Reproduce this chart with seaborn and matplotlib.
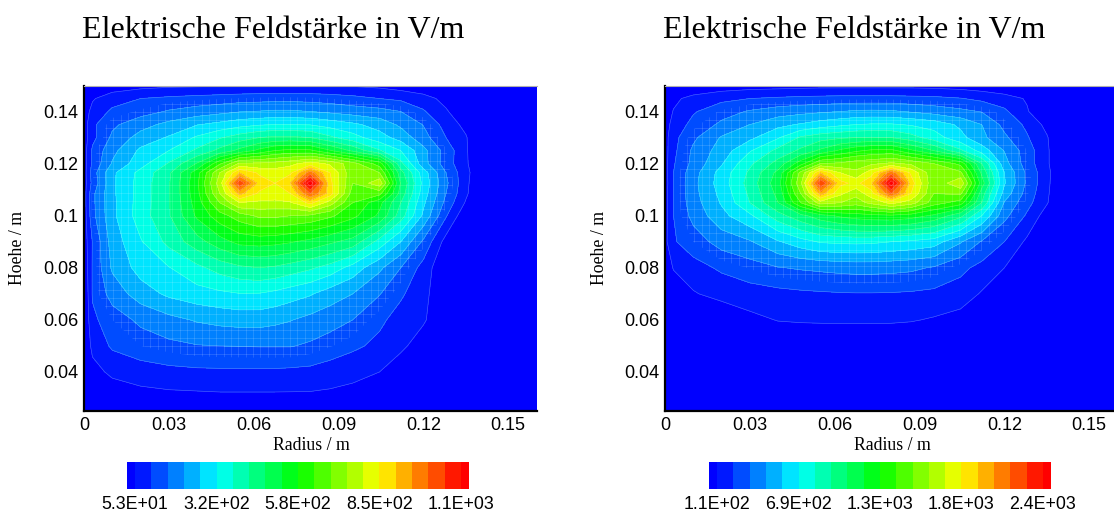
import numpy as np
import matplotlib
matplotlib.use("Agg")
import matplotlib.pyplot as plt
from matplotlib.colors import LinearSegmentedColormap, ListedColormap, BoundaryNorm
from matplotlib.ticker import MultipleLocator, FixedLocator, FixedFormatter
import seaborn as sns

title_text = "Elektrische Feldstärke in V/m"
xlabel_text = "Radius / m"
ylabel_text = "Hoehe / m"
legend_left = ["5.3E+01", "3.2E+02", "5.8E+02", "8.5E+02", "1.1E+03"]
legend_right = ["1.1E+02", "6.9E+02", "1.3E+03", "1.8E+03", "2.4E+03"]
x_ticks = [0, 0.03, 0.06, 0.09, 0.12, 0.15]
x_ticklabels = ["0", "0.03", "0.06", "0.09", "0.12", "0.15"]
y_ticks = [0.04, 0.06, 0.08, 0.1, 0.12, 0.14]
y_ticklabels = ["0.04", "0.06", "0.08", "0.1", "0.12", "0.14"]

radius = [0, .003, .01, .02, .03, .04, .048, .055, .062, .0675, .073, .08, .087, .095, .1045, .112, .12, .128, .135, .14, .16]
height = [.025, .03, .04, .05, .06, .07, .08, .09, .1, .105, .1085, .1125, .1165, .12, .125, .13, .135, .14, .145, .15]

# field expressed in contour-level numbers (level k = k-th contour of the legend)
field_left = [
 [-1]*21,
 [-1,-1,-.8,-.5,-.35,-.3,-.25,-.25,-.25,-.25,-.25,-.25,-.3,-.4,-.7,-1,-1,-1,-1,-1,-1],
 [-1,-.4,.25,.6,.75,.82,.84,.84,.84,.84,.8,.75,.55,.3,0,-.7,-1,-1,-1,-1,-1],
 [-1,.3,1.15,1.5,1.75,1.95,2,2.02,2.05,2.05,2.05,1.85,1.55,1.2,.75,.25,-.6,-1,-1,-1,-1],
 [-1,.8,1.5,2.2,2.7,3.1,3.3,3.4,3.4,3.25,3.05,2.7,2.4,2,1.2,.6,.15,-1,-1,-1,-1],
 [-1,1.1,2.4,3.5,4.2,4.6,4.8,4.97,4.95,4.75,4.45,4.1,3.5,3,2.05,1.15,.35,-1,-1,-1,-1],
 [-.8,1.1,3.15,4.4,4.95,5.75,6.4,6.8,7,6.85,6.55,6.15,5.6,4.6,3.2,2,.63,-1,-1,-1,-1],
 [-.6,1.05,3.45,4.9,6.3,7.6,8.6,9.3,9.4,9.3,9.1,8.7,8.2,7.6,5.6,4,1.8,-.4,-1,-1,-1],
 [-.6,1.7,3.75,5.5,6.9,9.2,10.6,11.5,12.2,12.2,12,11.8,11.2,10.3,8.8,6.5,3.8,1.1,-.8,-1,-1],
 [-.5,1.75,3.75,5.45,6.9,9.5,12,14,13.8,13.7,13.9,15.3,13.5,11,9.3,7,4.2,1.7,-.1,-1,-1],
 [-.5,1.75,3.8,5.4,6.9,9.7,13,16.3,14.8,14.7,15,18,15.5,11.5,11.3,7.6,4.5,2,.2,-1,-1],
 [-.5,1.3,3.8,5.4,6.9,9.8,13.5,18.8,15.6,15,16,20.8,15.3,12,13.7,7.9,4.7,2.2,.3,-1,-1],
 [-.5,1.5,3.8,5.3,6.8,9.6,13,16,14.8,14.5,14.8,17.5,15,12.2,12,7.4,4.5,2,.3,-.7,-1],
 [-.5,1.2,3.1,4.6,6.1,8.1,10.8,13.2,13.2,13.4,13.7,14.5,13.8,12.4,10.5,6.3,3.4,1.5,.2,-1,-1],
 [-.5,1.2,2.7,4.2,5,6.2,7.3,8.3,9.3,10,10.3,10.2,9.1,7.8,6.1,5,3.3,1.6,.15,-1,-1],
 [-.5,.7,2.2,3.4,4.1,5.15,5.9,6.5,7,7.2,7.2,7,6.2,5.4,4.4,3.6,2.4,1,.1,-1,-1],
 [-.5,.8,1.8,2.6,3.3,3.95,4.3,4.65,4.9,5,5,4.95,4.6,4.2,3.6,2.8,1.95,.6,-.3,-1,-1],
 [-.5,.3,1.2,1.6,2.1,2.45,2.7,2.95,3.05,3.15,3.15,3,2.8,2.55,2.35,2,1.1,.15,-1,-1,-1],
 [-.7,-.1,.55,1,1.2,1.35,1.45,1.55,1.6,1.65,1.65,1.6,1.5,1.3,1,.8,.5,-.4,-1,-1,-1],
 [-1,-1,-.6,-.35,-.2,-.15,-.1,-.05,0,0,0,0,-.05,-.1,-.25,-.5,-1,-1,-1,-1,-1],
]

field_right = [
 [-1]*21,
 [-1]*21,
 [-1]*21,
 [-1]*21,
 [-1,-1,-1,-1,-.3,.05,.12,.15,.17,.17,.17,.15,.08,-.1,-.4,-1,-1,-1,-1,-1,-1],
 [-1,-1,-.1,.4,.6,.72,.82,.88,.93,.95,.95,.93,.88,.78,.55,-.1,-1,-1,-1,-1,-1],
 [-1,.1,.65,1.15,1.55,1.95,2.1,2.2,2.3,2.35,2.35,2.3,2.2,1.9,1.25,.7,0,-1,-1,-1,-1],
 [-.3,.9,1.5,2.4,2.9,3.9,4.6,5.1,5.2,5.25,5.2,5,4.8,4.5,3.1,1.9,1,-.2,-1,-1,-1],
 [-.4,1,2.3,3.7,4.8,6.6,7.7,8.6,9.2,9.5,9.7,9.8,9.5,8.8,7.3,5,2.3,.85,-.5,-1,-1],
 [-.4,1,2.55,4.1,6,8,11,13.5,13,12.5,13.3,14.3,13.5,11.5,10.5,7,2.9,1.35,.1,-1,-1],
 [-.4,1,2.65,4.3,6.2,8.3,12,16.5,14.2,13.3,14.6,18,15,12,12.2,7.5,3.6,1.6,.2,-1,-1],
 [-.5,1,2.7,4.5,6.4,8.6,12.8,19,15.3,14.7,15.8,20.7,15.5,12.2,13.8,8.5,4.1,1.8,.3,-1,-1],
 [-.4,1,2.6,4.4,6.2,8.3,12.3,16,14,13.2,14.6,17.6,14.8,12.2,12.2,7.8,4,1.8,.3,-.8,-1],
 [-.4,.9,2.3,3.9,5.8,7.4,9.6,12,12.2,12.6,12.8,13.2,12.8,12,10.7,7,3.4,1.5,.2,-1,-1],
 [-.4,.75,2.2,3.45,4.9,6.3,7.2,8.2,9.2,9.8,10.2,10.3,9.2,8,6.2,4.55,2.95,1.5,.2,-1,-1],
 [-.4,.7,1.8,3.1,3.75,4.9,6.15,6.6,6.85,7,7.05,7,6.4,5.5,4.3,3.25,2.2,1.1,.1,-1,-1],
 [-.5,.4,1.3,2.2,3,3.7,4.1,4.5,4.8,5,5.1,5.1,4.9,4.6,3.8,3,1.7,.8,-.3,-1,-1],
 [-.5,.05,.9,1.6,2.1,2.5,2.7,2.85,3,3.15,3.2,3.15,2.9,2.6,2.25,1.95,1.2,.1,-1,-1,-1],
 [-.7,-.2,.3,.75,1,1.15,1.25,1.3,1.35,1.35,1.35,1.35,1.3,1.25,1.05,.75,.45,-.1,-1,-1,-1],
 [-1,-1,-.8,-.6,-.45,-.4,-.35,-.3,-.3,-.3,-.3,-.3,-.3,-.35,-.45,-.6,-.9,-1,-1,-1,-1],
]

sns.set_style("white")
plt.rcParams["font.family"] = ["Liberation Sans", "DejaVu Sans"]
plt.rcParams["text.color"] = "black"
plt.rcParams["xtick.labelcolor"] = "black"
plt.rcParams["ytick.labelcolor"] = "black"
W, H = 1114, 515
fig = plt.figure(figsize=(W / 100, H / 100), dpi=100)


def px_axes(x0, y0, x1, y1):
    return fig.add_axes([x0 / W, 1 - y1 / H, (x1 - x0) / W, (y1 - y0) / H])


base = LinearSegmentedColormap.from_list(
    "tp", ["#0000ff", "#00ffff", "#00ff00", "#ffff00", "#ff0000"])
band_colors = [base(np.clip((k - 0.5) / 20, 0, 1)) for k in range(22)]
band_cmap = ListedColormap(band_colors)
levels = [-3] + list(range(21)) + [23]
norm = BoundaryNorm(levels, 22)


def panel(x0, field, legend, cx0):
    ax = px_axes(x0, 85.5, x0 + 452.5, 411)
    ax.set_facecolor(band_colors[0])
    Z = np.array(field, dtype=float)
    ax.contourf(radius, height, Z, levels=levels, cmap=band_cmap, norm=norm)
    ax.contour(radius, height, Z, levels=list(range(21)), colors="white",
               linewidths=0.45, alpha=0.3)
    # faint computational mesh, only inside the field
    inner = ax.contourf(radius, height, Z, levels=[1.5, 23], colors="none")
    clip = inner.get_paths()[0]
    vl = ax.vlines(np.arange(0, 0.16, 0.0026), 0.025, 0.15, color="white",
                   linewidth=0.55, alpha=0.17)
    hl = ax.hlines(np.arange(0.025, 0.15, 0.0031), 0, 0.16, color="white",
                   linewidth=0.55, alpha=0.17)
    vl.set_clip_path(clip, transform=ax.transData)
    hl.set_clip_path(clip, transform=ax.transData)

    ax.set_xlim(0, 0.16)
    ax.set_ylim(0.025, 0.15)
    ax.spines["right"].set_visible(False)
    ax.spines["top"].set_linewidth(0.8)
    ax.spines["top"].set_color("#b0b0b0")
    for s in ("left", "bottom"):
        ax.spines[s].set_linewidth(1.6)
        ax.spines[s].set_color("black")
    ax.xaxis.set_major_locator(FixedLocator(x_ticks))
    ax.xaxis.set_major_formatter(FixedFormatter(x_ticklabels))
    ax.yaxis.set_major_locator(FixedLocator(y_ticks))
    ax.yaxis.set_major_formatter(FixedFormatter(y_ticklabels))
    ax.xaxis.set_minor_locator(MultipleLocator(0.006))
    ax.yaxis.set_minor_locator(MultipleLocator(0.004))
    ax.tick_params(which="major", direction="in", length=6, width=1.2,
                   labelsize=13, color="black", bottom=True, left=True, pad=4)
    ax.tick_params(which="minor", direction="in", length=3, width=0.8,
                   color="black", bottom=True, left=True)
    fig.text((x0 + 227) / W, 1 - 445 / H, xlabel_text, family="Liberation Serif",
             fontsize=12.8, ha="center", va="center")
    fig.text((x0 - 66) / W, 1 - 248 / H, ylabel_text, family="Liberation Serif",
             fontsize=12.8, rotation=90, ha="center", va="center")
    fig.text((x0 - 2) / W, 1 - 30.5 / H, title_text, family="Liberation Serif",
             fontsize=23, ha="left", va="center")

    cax = px_axes(cx0, 462, cx0 + 342, 489)
    cells = [0] + [k for k in range(1, 21) for _ in (0, 1)] + [21]
    sns.heatmap(np.array([cells]), cmap=band_cmap, vmin=-0.5, vmax=21.5, cbar=False,
                ax=cax, xticklabels=False, yticklabels=False)
    cax.set_xticks([1, 11, 21, 31, 41])
    cax.set_xticklabels(legend, fontsize=12.8, rotation=0)
    cax.tick_params(axis="x", length=0, pad=5, bottom=True)


panel(84, field_left, legend_left, 127)
panel(665, field_right, legend_right, 709)

fig.savefig("out.png", dpi=100)
